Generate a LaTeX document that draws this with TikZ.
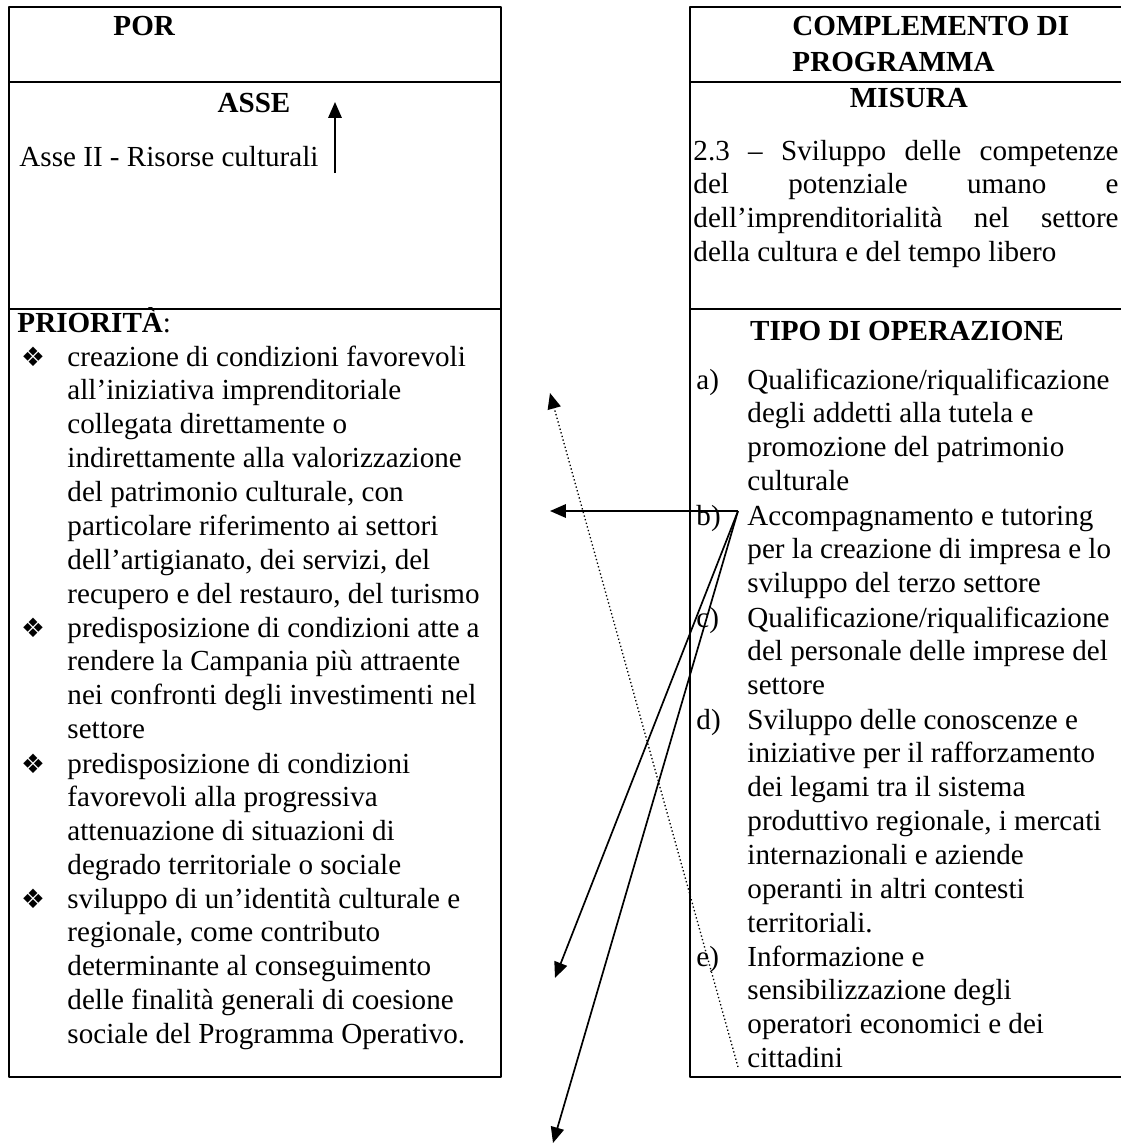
\documentclass[tikz,border=0pt]{standalone}
\usepackage{fontspec}
\setmainfont{Liberation Serif}
\newfontfamily\dingfont{DejaVu Sans}
\usetikzlibrary{arrows.meta}

\tikzset{
  boxline/.style={line width=0.8pt},
  link/.style={->, line width=0.7pt},
  hint/.style={->, densely dotted, line width=0.55pt},
  txt/.style={inner sep=0pt, anchor=base west},
  ctxt/.style={inner sep=0pt, anchor=base},
  para/.style={inner sep=0pt, anchor=base west, align=flush left, text width=185pt},
  just/.style={inner sep=0pt, anchor=base west, align=justify, text width=175.3pt},
  bullet/.style={inner sep=0pt, anchor=base, font=\dingfont\fontsize{11}{11}\selectfont},
}

\begin{document}
\begin{tikzpicture}[x=0.4124pt, y=-0.4124pt, font=\fontsize{12}{14}\selectfont, line join=round, >={Triangle[length=6.5pt,width=5.5pt]}]
  \useasboundingbox (0,0) rectangle (1121,1148);

  % left table: POR
  \draw[boxline] (9,7) rectangle (501,1077);
  \draw[boxline] (9,82) -- (501,82);
  \draw[boxline] (9,309) -- (501,309);

  % right table: complemento di programma
  \draw[boxline] (1121,7) -- (690,7) -- (690,1077) -- (1121,1077);
  \draw[boxline] (690,82) -- (1121,82);
  \draw[boxline] (690,309) -- (1121,309);

  \node[txt] (por) at (113,35) {\textbf{POR}};
  \node[ctxt] (asse) at (254,112) {\textbf{ASSE}};
  \node[txt] (asseval) at (19,166) {Asse II - Risorse culturali};
  \node[txt] (prio) at (17,332) {\textbf{PRIORITÀ}:};

  \foreach \y [count=\i] in {366,637,773,908}
    \node[bullet] (bul\i) at (33,\y) {❖};

  \node[para] (prio1) at (67,366) {creazione di condizioni favorevoli\\
    all’iniziativa imprenditoriale\\
    collegata direttamente o\\
    indirettamente alla valorizzazione\\
    del patrimonio culturale, con\\
    particolare riferimento ai settori\\
    dell’artigianato, dei servizi, del\\
    recupero e del restauro, del turismo};
  \node[para] (prio2) at (67,637) {predisposizione di condizioni atte a\\
    rendere la Campania più attraente\\
    nei confronti degli investimenti nel\\
    settore};
  \node[para] (prio3) at (67,773) {predisposizione di condizioni\\
    favorevoli alla progressiva\\
    attenuazione di situazioni di\\
    degrado territoriale o sociale};
  \node[para] (prio4) at (67,908) {sviluppo di un’identità culturale e\\
    regionale, come contributo\\
    determinante al conseguimento\\
    delle finalità generali di coesione\\
    sociale del Programma Operativo.};

  \node[para] (cdp) at (792,35) {\textbf{COMPLEMENTO DI}\\[1pt]\textbf{PROGRAMMA}};
  \node[ctxt] (misura) at (909,107) {\textbf{MISURA}};
  \node[just] (misuraval) at (693,160) {2.3 – Sviluppo delle competenze\linebreak
    del potenziale umano e\linebreak
    dell’imprenditorialità nel settore\linebreak
    della cultura e del tempo libero};
  \node[ctxt] (tipo) at (907,340) {\textbf{TIPO DI OPERAZIONE}};

  \foreach \l/\y in {a/389,b/525,c/627,d/729,e/966}
    \node[txt] (lab\l) at (696,\y) {\l)};

  \node[para] (opa) at (747,389) {Qualificazione/riqualificazione\\
    degli addetti alla tutela e\\
    promozione del patrimonio\\
    culturale};
  \node[para] (opb) at (747,525) {Accompagnamento e tutoring\\
    per la creazione di impresa e lo\\
    sviluppo del terzo settore};
  \node[para] (opc) at (747,627) {Qualificazione/riqualificazione\\
    del personale delle imprese del\\
    settore};
  \node[para] (opd) at (747,729) {Sviluppo delle conoscenze e\\
    iniziative per il rafforzamento\\
    dei legami tra il sistema\\
    produttivo regionale, i mercati\\
    internazionali e aziende\\
    operanti in altri contesti\\
    territoriali.};
  \node[para] (ope) at (747,966) {Informazione e\\
    sensibilizzazione degli\\
    operatori economici e dei\\
    cittadini};

  % arrows
  \coordinate (asseTail) at (335,173);
  \coordinate (asseTip) at (335,102);
  \draw[link] (asseTail) -- (asseTip);

  \coordinate (hub) at (738,511);
  \coordinate (tipA) at (550,511);
  \coordinate (tipB) at (555,978);
  \coordinate (tipC) at (553,1143);
  \draw[link] (hub) -- (tipA);
  \draw[link] (hub) -- (tipB);
  \draw[link] (hub) -- (tipC);

  \coordinate (dotTail) at (738,1067);
  \coordinate (dotTip) at (550,393);
  \draw[hint] (dotTail) -- (dotTip);
\end{tikzpicture}
\end{document}
